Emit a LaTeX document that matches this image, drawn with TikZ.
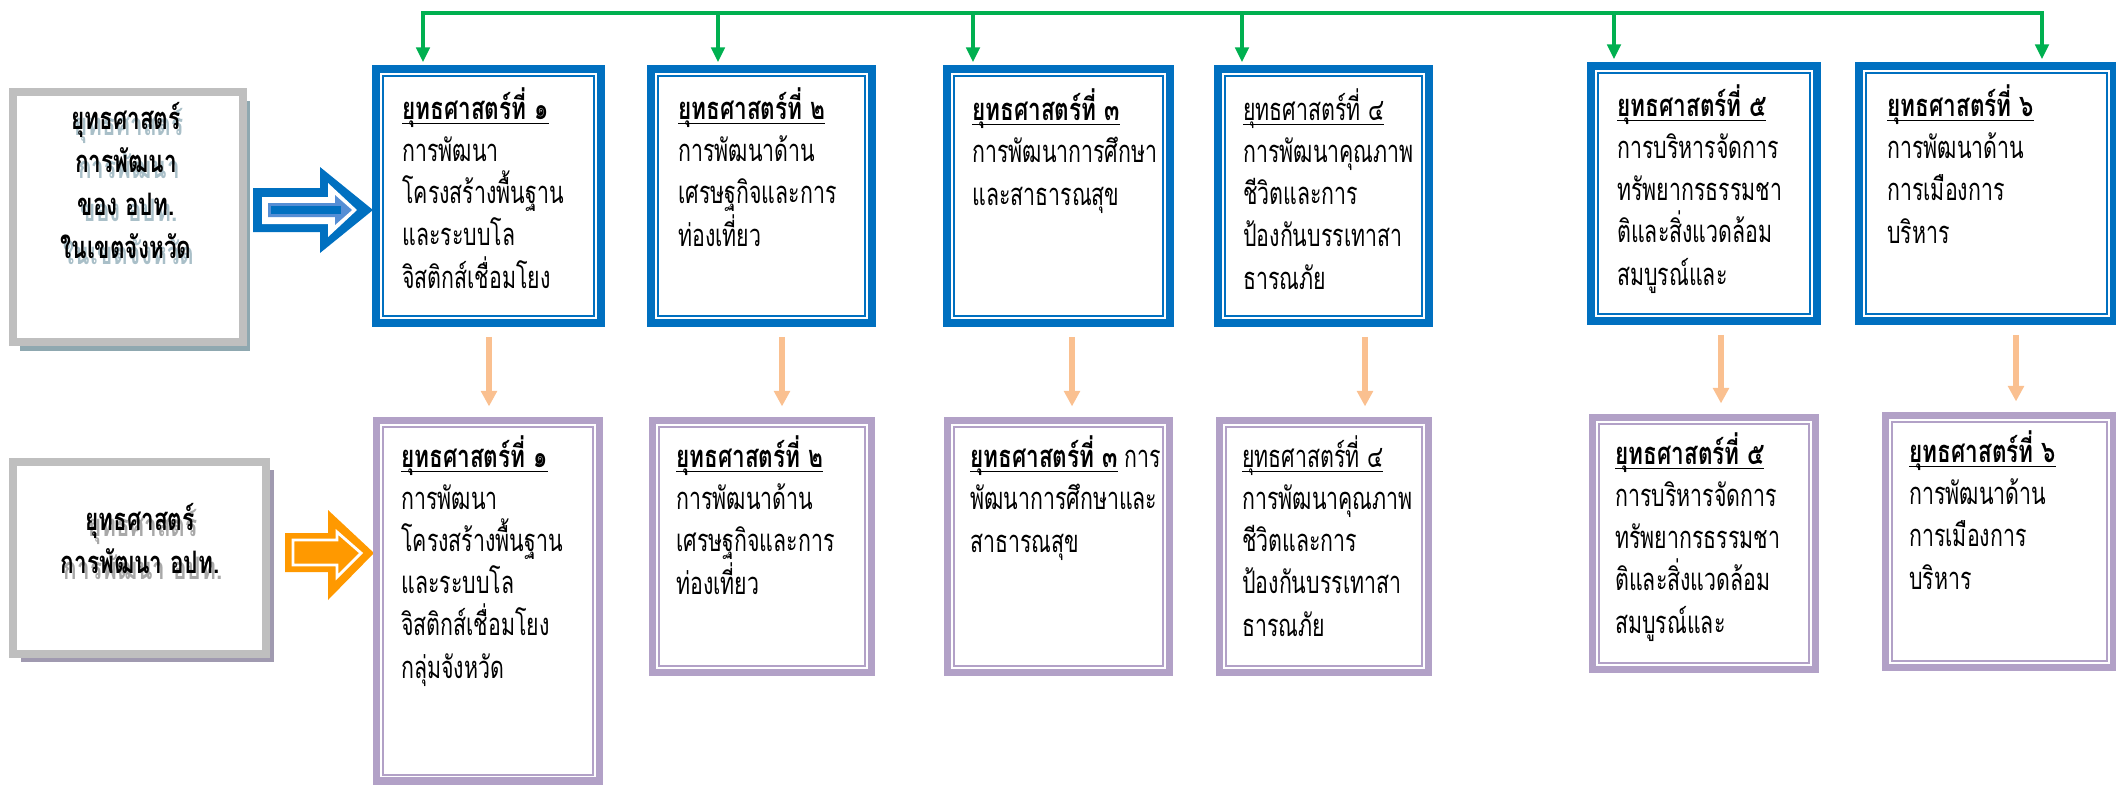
\documentclass[tikz,border=0pt]{standalone}
\usepackage{fontspec}
\newfontfamily\thaifont[Script=Thai,FakeStretch=0.69,BoldFeatures={FakeStretch=0.73}]{Loma}
\usetikzlibrary{arrows.meta,fit,shadows}
\definecolor{bblue}{HTML}{0070C0}
\definecolor{ltblue}{HTML}{558ED5}
\definecolor{ppurple}{HTML}{B2A1C7}
\definecolor{ggreen}{HTML}{00B050}
\definecolor{lorange}{HTML}{FAC090}
\definecolor{dorange}{HTML}{FF9900}
\definecolor{lgray}{HTML}{BFBFBF}
\definecolor{shblue}{HTML}{8FA8B0}
\definecolor{shpurple}{HTML}{A09AB0}
\definecolor{txtsh}{HTML}{A9BFC8}
\definecolor{txtshg}{HTML}{A8A8A8}
\newcommand\ulbox[1]{\setbox0\hbox{#1}\rlap{\rule[-3pt]{\wd0}{0.9pt}}\box0\relax}
\tikzset{
  tbox/.style={draw=bblue,line width=5.7pt,inner sep=0pt},
  bbox/.style={draw=ppurple,line width=5pt,inner sep=0pt},
  tin/.style={draw=bblue,line width=1.4pt},
  bin/.style={draw=ppurple,line width=1.4pt},
  lbox/.style={draw=lgray,fill=white,line width=5.7pt,inner sep=0pt},
  txt/.style={font=\thaifont\fontsize{22}{29.9}\selectfont,align=left,anchor=base west,inner sep=0pt},
  ltxt/.style={font=\thaifont\bfseries\fontsize{22}{30.5}\selectfont,align=center,anchor=base,inner sep=0pt},
  gline/.style={draw=ggreen,line width=2.5pt,-{Triangle[width=9.5pt,length=10.5pt]}},
  oarr/.style={draw=lorange,line width=3.6pt,-{Triangle[width=11pt,length=11pt]},shorten <=7pt,shorten >=7.5pt}
}
\begin{document}
\begin{tikzpicture}[x=0.025cm,y=-0.025cm]
\useasboundingbox (0,0) rectangle (2116,784);

% left boxes
\node[lbox,drop shadow={fill=shblue,opacity=1,shadow xshift=5pt,shadow yshift=-6.4pt},fit={(13,92) (243,342)}] (l1) {};
\node[lbox,drop shadow={fill=shpurple,opacity=1,shadow xshift=5.7pt,shadow yshift=-5.7pt},fit={(13,462) (266,654)}] (l2) {};
% text anchored at the baseline of the last line
\node[ltxt,text=txtsh] (l1s) at (129,264) {ยุทธศาสตร์\\การพัฒนา\\ของ อปท.\\ในเขตจังหวัด};
\node[ltxt] (l1t) at (126,258) {ยุทธศาสตร์\\การพัฒนา\\ของ อปท.\\ในเขตจังหวัด};
\node[ltxt,text=txtshg] (l2s) at (143,579) {ยุทธศาสตร์\\การพัฒนา อปท.};
\node[ltxt] (l2t) at (140,573) {ยุทธศาสตร์\\การพัฒนา อปท.};

% block arrows
\fill[bblue] (253,188) -- (320,188) -- (320,167) -- (373,210) -- (320,253) -- (320,232) -- (253,232) -- cycle;
\fill[white] (262,197) -- (328,197) -- (328,183) -- (357,210) -- (328,237) -- (328,224) -- (262,224) -- cycle;
\fill[ltblue] (268,203) -- (335,203) -- (335,195) -- (352,210) -- (335,225) -- (335,217) -- (268,217) -- cycle;
\fill[bblue] (271,206) rectangle (341,214);
\fill[dorange] (285,533) -- (328,533) -- (328,510) -- (374,553) -- (328,600) -- (328,572) -- (285,572) -- cycle;
\draw[white,line width=2pt,line join=miter] (293,540) -- (337,540) -- (337,532) -- (361,553) -- (337,577) -- (337,565) -- (293,565) -- cycle;

% top row
\node[tbox,fit={(376,69) (601,323)}] (t1) {};
\node[tbox,fit={(651,69) (872,323)}] (t2) {};
\node[tbox,fit={(947,69) (1170,323)}] (t3) {};
\node[tbox,fit={(1218,69) (1429,323)}] (t4) {};
\node[tbox,fit={(1591,66) (1817,321)}] (t5) {};
\node[tbox,fit={(1859,66) (2114,321)}] (t6) {};
\draw[tin] ([xshift=7.8pt,yshift=7.8pt]t1.south west) rectangle ([xshift=-7.8pt,yshift=-7.8pt]t1.north east);
\draw[tin] ([xshift=7.8pt,yshift=7.8pt]t2.south west) rectangle ([xshift=-7.8pt,yshift=-7.8pt]t2.north east);
\draw[tin] ([xshift=7.8pt,yshift=7.8pt]t3.south west) rectangle ([xshift=-7.8pt,yshift=-7.8pt]t3.north east);
\draw[tin] ([xshift=7.8pt,yshift=7.8pt]t4.south west) rectangle ([xshift=-7.8pt,yshift=-7.8pt]t4.north east);
\draw[tin] ([xshift=7.8pt,yshift=7.8pt]t5.south west) rectangle ([xshift=-7.8pt,yshift=-7.8pt]t5.north east);
\draw[tin] ([xshift=7.8pt,yshift=7.8pt]t6.south west) rectangle ([xshift=-7.8pt,yshift=-7.8pt]t6.north east);

\node[txt] (t1x) at (402,288) {\ulbox{\bfseries ยุทธศาสตร์ที่ ๑}\\การพัฒนา\\โครงสร้างพื้นฐาน\\และระบบโล\\จิสติกส์เชื่อมโยง};
\node[txt] (t2x) at (678,246) {\ulbox{\bfseries ยุทธศาสตร์ที่ ๒}\\การพัฒนาด้าน\\เศรษฐกิจและการ\\ท่องเที่ยว};
\node[txt] (t3x) at (972,205) {\ulbox{\bfseries ยุทธศาสตร์ที่ ๓}\\การพัฒนาการศึกษา\\และสาธารณสุข};
\node[txt] (t4x) at (1243,289) {\ulbox{ยุทธศาสตร์ที่ ๔}\\การพัฒนาคุณภาพ\\ชีวิตและการ\\ป้องกันบรรเทาสา\\ธารณภัย};
\node[txt] (t5x) at (1617,285) {\ulbox{\bfseries ยุทธศาสตร์ที่ ๕}\\การบริหารจัดการ\\ทรัพยากรธรรมชา\\ติและสิ่งแวดล้อม\\สมบูรณ์และ};
\node[txt] (t6x) at (1887,243) {\ulbox{\bfseries ยุทธศาสตร์ที่ ๖}\\การพัฒนาด้าน\\การเมืองการ\\บริหาร};

% bottom row
\node[bbox,fit={(376.5,420.5) (599.5,781)}] (b1) {};
\node[bbox,fit={(652.5,420.5) (871.5,672.5)}] (b2) {};
\node[bbox,fit={(947.5,420.5) (1169.5,672.5)}] (b3) {};
\node[bbox,fit={(1219.5,420.5) (1428.5,672.5)}] (b4) {};
\node[bbox,fit={(1592.5,417.5) (1815.5,669.5)}] (b5) {};
\node[bbox,fit={(1885.5,415.5) (2113,667.5)}] (b6) {};
\draw[bin] ([xshift=7.1pt,yshift=7.1pt]b1.south west) rectangle ([xshift=-7.1pt,yshift=-7.1pt]b1.north east);
\draw[bin] ([xshift=7.1pt,yshift=7.1pt]b2.south west) rectangle ([xshift=-7.1pt,yshift=-7.1pt]b2.north east);
\draw[bin] ([xshift=7.1pt,yshift=7.1pt]b3.south west) rectangle ([xshift=-7.1pt,yshift=-7.1pt]b3.north east);
\draw[bin] ([xshift=7.1pt,yshift=7.1pt]b4.south west) rectangle ([xshift=-7.1pt,yshift=-7.1pt]b4.north east);
\draw[bin] ([xshift=7.1pt,yshift=7.1pt]b5.south west) rectangle ([xshift=-7.1pt,yshift=-7.1pt]b5.north east);
\draw[bin] ([xshift=7.1pt,yshift=7.1pt]b6.south west) rectangle ([xshift=-7.1pt,yshift=-7.1pt]b6.north east);

\node[txt] (b1x) at (401,678) {\ulbox{\bfseries ยุทธศาสตร์ที่ ๑}\\การพัฒนา\\โครงสร้างพื้นฐาน\\และระบบโล\\จิสติกส์เชื่อมโยง\\กลุ่มจังหวัด};
\node[txt] (b2x) at (676,594) {\ulbox{\bfseries ยุทธศาสตร์ที่ ๒}\\การพัฒนาด้าน\\เศรษฐกิจและการ\\ท่องเที่ยว};
\node[txt] (b3x) at (970,552) {\ulbox{\bfseries ยุทธศาสตร์ที่ ๓} การ\\พัฒนาการศึกษาและ\\สาธารณสุข};
\node[txt] (b4x) at (1242,636) {\ulbox{ยุทธศาสตร์ที่ ๔}\\การพัฒนาคุณภาพ\\ชีวิตและการ\\ป้องกันบรรเทาสา\\ธารณภัย};
\node[txt] (b5x) at (1615,633) {\ulbox{\bfseries ยุทธศาสตร์ที่ ๕}\\การบริหารจัดการ\\ทรัพยากรธรรมชา\\ติและสิ่งแวดล้อม\\สมบูรณ์และ};
\node[txt] (b6x) at (1909,589) {\ulbox{\bfseries ยุทธศาสตร์ที่ ๖}\\การพัฒนาด้าน\\การเมืองการ\\บริหาร};

% green links
\coordinate (g1) at (423,13);
\coordinate (g2) at (718,13);
\coordinate (g3) at (973,13);
\coordinate (g4) at (1242,13);
\coordinate (g5) at (1614,13);
\coordinate (g6) at (2042,13);
\draw[gline,shorten >=2pt,{Triangle[width=9.5pt,length=10.5pt]}-{Triangle[width=9.5pt,length=10.5pt]},shorten <=2pt] (g1 |- t1.north) -- (g1) -- (g6) -- (g6 |- t6.north);
\draw[gline,shorten >=2pt] (g2) -- (g2 |- t2.north);
\draw[gline,shorten >=2pt] (g3) -- (g3 |- t3.north);
\draw[gline,shorten >=2pt] (g4) -- (g4 |- t4.north);
\draw[gline,shorten >=2pt] (g5) -- (g5 |- t5.north);

% orange links
\coordinate (o1) at (489,0);
\coordinate (o2) at (782,0);
\coordinate (o3) at (1072,0);
\coordinate (o4) at (1365,0);
\coordinate (o5) at (1721,0);
\coordinate (o6) at (2016,0);
\draw[oarr] (t1.south -| o1) -- (b1.north -| o1);
\draw[oarr] (t2.south -| o2) -- (b2.north -| o2);
\draw[oarr] (t3.south -| o3) -- (b3.north -| o3);
\draw[oarr] (t4.south -| o4) -- (b4.north -| o4);
\draw[oarr] (t5.south -| o5) -- (b5.north -| o5);
\draw[oarr] (t6.south -| o6) -- (b6.north -| o6);
\end{tikzpicture}
\end{document}
